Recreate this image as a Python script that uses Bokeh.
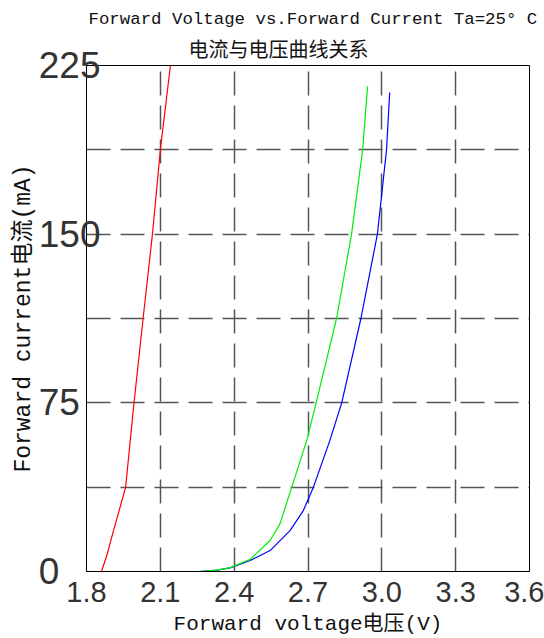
from bokeh.plotting import figure
from bokeh.models import Title, FixedTicker, Range1d
from bokeh.embed import file_html
from bokeh.resources import INLINE

title_en = "Forward Voltage vs.Forward Current Ta=25° C"
title_cn = "电流与电压曲线关系"
x_label = "Forward voltage电压(V)"
y_label = "Forward current电流(mA)"

x_ticks = [1.8, 2.1, 2.4, 2.7, 3.0, 3.3, 3.6]
x_tick_labels = ["1.8", "2.1", "2.4", "2.7", "3.0", "3.3", "3.6"]
y_ticks = [0, 75, 150, 225]
y_tick_labels = ["0", "75", "150", "225"]
x_grid = [2.1, 2.4, 2.7, 3.0, 3.3]
y_grid = [37.5, 75, 112.5, 150, 187.5]

red_v = [1.861, 1.885, 1.908, 1.935, 1.959, 1.993, 2.030, 2.068, 2.100, 2.141]
red_i = [0, 8, 17.5, 28, 37.5, 75, 112.5, 150, 187.5, 225]

green_v = [1.8, 2.26, 2.33, 2.384, 2.465, 2.546, 2.586, 2.634, 2.695, 2.733, 2.816, 2.877, 2.922, 2.942]
green_i = [0, 0, 0.6, 1.7, 5.4, 13.8, 21.2, 37.5, 58.3, 75, 112.5, 150, 187.5, 215.7]

blue_v = [1.8, 2.26, 2.33, 2.384, 2.465, 2.546, 2.627, 2.681, 2.722, 2.789, 2.837, 2.915, 2.982, 3.019, 3.032]
blue_i = [0, 0, 0.6, 1.6, 4.9, 9.3, 18.2, 27.1, 37.5, 58.3, 75, 112.5, 150, 187.5, 213]

MONO = "Liberation Mono, Noto Sans CJK SC"
FIG_SPACE = "\u2007"

p = figure(width=544, height=638, output_backend="svg", toolbar_location=None,
           x_range=Range1d(1.8, 3.6), y_range=Range1d(0, 225),
           min_border_left=86, min_border_right=15, min_border_top=65, min_border_bottom=67)
p.background_fill_color = "white"
p.border_fill_color = "white"
p.outline_line_color = "black"
p.outline_line_width = 1

p.add_layout(Title(text=title_cn, align="left", offset=102, standoff=5,
                   text_font="Noto Sans CJK SC", text_font_size="20px",
                   text_font_style="normal", text_color="#111111"), "above")
p.add_layout(Title(text=title_en, align="left", offset=2, standoff=2,
                   text_font="Liberation Mono", text_font_size="17.4px",
                   text_font_style="normal", text_color="#111111"), "above")

# tick labels (y labels padded with figure spaces so they line up on their left edge)
ymax_len = max(len(s) for s in y_tick_labels)
p.xaxis.ticker = FixedTicker(ticks=x_ticks)
p.xaxis.major_label_overrides = {t: s for t, s in zip(x_ticks, x_tick_labels)}
p.yaxis.ticker = FixedTicker(ticks=y_ticks)
p.yaxis.major_label_overrides = {t: s + FIG_SPACE * (ymax_len - len(s))
                                 for t, s in zip(y_ticks, y_tick_labels)}

for ax in (p.xaxis[0], p.yaxis[0]):
    ax.major_tick_out = 0
    ax.major_tick_in = 0
    ax.minor_tick_out = 0
    ax.minor_tick_in = 0
    ax.axis_line_color = "black"
    ax.axis_label_text_font = MONO
    ax.axis_label_text_font_style = "normal"
    ax.axis_label_text_color = "#111111"
    ax.major_label_text_color = "#333333"

p.xaxis.major_label_text_font = "Liberation Sans"
p.xaxis.major_label_text_font_size = "29px"
p.xaxis.major_label_standoff = 10
p.xaxis.axis_label = x_label
p.xaxis.axis_label_text_font_size = "21px"
p.xaxis.axis_label_standoff = 8

p.yaxis.major_label_text_font = "Liberation Sans"
p.yaxis.major_label_text_font_size = "37px"
p.yaxis.major_label_standoff = -14
p.yaxis.axis_label = y_label
p.yaxis.axis_label_text_font_size = "23px"
p.yaxis.axis_label_standoff = -1

p.xgrid.ticker = FixedTicker(ticks=x_grid)
p.ygrid.ticker = FixedTicker(ticks=y_grid)
for g in (p.xgrid[0], p.ygrid[0]):
    g.grid_line_color = "#555555"
    g.grid_line_width = 1.5
    g.grid_line_dash = "24 10"
    g.grid_line_alpha = 1.0

p.line(blue_v, blue_i, line_color="#0000ff", line_width=1.2)
p.line(green_v, green_i, line_color="#00ee00", line_width=1.2)
p.line(red_v, red_i, line_color="#ff0000", line_width=1.2)

open("out.html", "w").write(file_html(p, INLINE))
